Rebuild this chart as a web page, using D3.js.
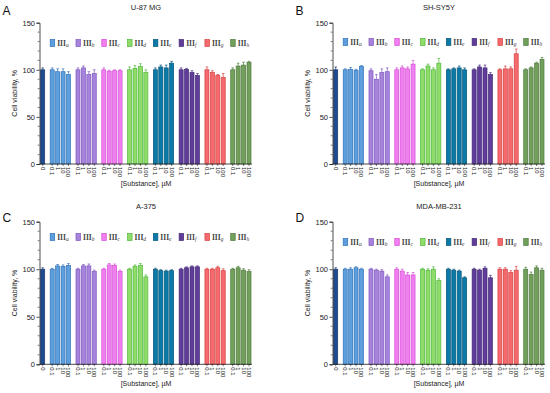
<!DOCTYPE html>
<html>
<head>
<meta charset="utf-8">
<script src="https://cdn.jsdelivr.net/npm/d3@7"></script>
<style>
  body { margin: 0; background: #fff; }
  svg { display: block; }
</style>
</head>
<body>
<svg id="chart" width="550" height="393"></svg>
<script>
// compounds and concentrations
const compounds = ["a", "b", "c", "d", "e", "f", "g", "h"];
const concLabels = ["0.1", "1", "10", "100"];

// cell lines
const titles = ["U-87 MG", "SH-SY5Y", "A-375", "MDA-MB-231"];
const letters = ["A", "B", "C", "D"];

// values: control first, then 4 concentrations for each compound a..h
const u87Means = [100,
  100, 98, 98, 95,
  100, 102, 95, 96,
  100, 98.5, 99, 99,
  100, 101.5, 103.5, 97,
  100, 103, 102, 107,
  100, 100.5, 97, 94,
  100, 97, 94, 92,
  100, 104, 105, 108];
const u87Errors = [2,
  2, 3, 3, 3,
  2, 2, 3, 4,
  2, 1, 1, 1,
  3, 3, 3, 3,
  2, 2, 3, 2,
  2, 1, 2, 2,
  3, 2, 1, 4,
  2, 3, 3, 1];

const shsyMeans = [100,
  100, 100.5, 99.5, 103.5,
  99, 90, 97, 98,
  100, 102, 101, 106,
  100, 104, 100, 107,
  100, 101, 102, 100,
  100, 103, 102, 95,
  100, 101, 101, 117,
  100, 102, 107, 111];
const shsyErrors = [3,
  1, 2, 1, 1,
  2, 5, 4, 4,
  2, 2, 2, 4,
  1, 2, 2, 5,
  1, 1, 2, 2,
  1, 2, 3, 2,
  1, 3, 2, 5,
  1, 1, 1, 2];

const a375Means = [100,
  100, 103.5, 103, 104,
  100, 103.5, 103.5, 97.5,
  100, 104.5, 104, 97.5,
  100, 103, 104, 92,
  100, 98.5, 98, 98.5,
  100, 101.5, 102.5, 102.5,
  100, 100, 101.5, 98.5,
  100, 101.5, 99, 97.5];
const a375Errors = [1.5,
  1, 1.5, 1.5, 2,
  1, 1.5, 2, 1.5,
  1, 1.5, 1.5, 1.5,
  1, 1.5, 2, 2,
  1, 1, 1, 1,
  1, 1, 1, 1,
  1, 1, 1.5, 2,
  1, 1.5, 1.5, 2];

const mdaMeans = [100,
  100, 100, 101.5, 100,
  100, 99, 98, 92,
  100, 98, 94, 94,
  100, 99, 100, 88,
  100, 99, 98, 91,
  100, 99, 101, 91,
  100, 100, 96.5, 99,
  100, 94.5, 101.5, 99];
const mdaErrors = [1.5,
  1, 1.5, 1, 1,
  1, 1, 1.5, 2,
  1.5, 2, 2.5, 2.5,
  1, 1.5, 2.5, 2,
  1, 1, 1, 1,
  1, 1, 1.5, 2.5,
  1.5, 1.5, 2, 4,
  2, 2.5, 2, 2];

const yTicks = [0, 50, 100, 150];

const fills = ["#1f4b8f", "#5d9fdc", "#a784dc", "#f07ff0", "#8fdc6b", "#0b7aa8", "#5f3d98", "#f46a6e", "#72a05c"];
const strokes = ["#163670", "#2f72b8", "#7f58c0", "#d64fd6", "#4fb83a", "#05567a", "#432878", "#d8403f", "#4e7a3c"];

const svg = d3.select("#chart");
const sans = "Liberation Sans, Arial, sans-serif";

const panels = [
  { means: u87Means, errs: u87Errors, dx: 0, top: 22.7, bottom: 164, legendY: 43, letterY: 15 },
  { means: shsyMeans, errs: shsyErrors, dx: 293, top: 22.7, bottom: 164, legendY: 42, letterY: 15 },
  { means: a375Means, errs: a375Errors, dx: 0, top: 221.7, bottom: 364.3, legendY: 237, letterY: 222 },
  { means: mdaMeans, errs: mdaErrors, dx: 293, top: 221.7, bottom: 364.3, legendY: 242, letterY: 222 }
];

// slot position of each bar (control, then groups with extra gap)
function slotOf(i) {
  if (i === 0) return 0;
  const g = Math.floor((i - 1) / 4), j = (i - 1) % 4;
  return (g + 1) * 0.75 + 1 + g * 4 + j;
}
function colorIdx(i) { return i === 0 ? 0 : Math.floor((i - 1) / 4) + 1; }

panels.forEach((p, pi) => {
  const g = svg.append("g").attr("transform", `translate(${p.dx},0)`);
  const x = d3.scaleLinear().domain([0, 38]).range([42.7, 249]);
  const y = d3.scaleLinear().domain([0, 150]).range([p.bottom, p.top]);
  const axisX = 39.5, axisEnd = 252;
  const barW = 4;

  // panel letter and title
  g.append("text").attr("x", 2.5).attr("y", p.letterY)
    .attr("font-family", sans).attr("font-size", 12)
    .attr("fill", "#111").text(letters[pi]);
  g.append("text").attr("x", 146).attr("y", p.top - 13)
    .attr("text-anchor", "middle")
    .attr("font-family", sans).attr("font-size", 7.5)
    .attr("fill", "#222").text(titles[pi]);

  // bars
  const idx = d3.range(p.means.length);
  g.selectAll("rect.bar").data(idx).enter().append("rect")
    .attr("class", "bar")
    .attr("x", i => x(slotOf(i)) - barW / 2)
    .attr("y", i => y(p.means[i]))
    .attr("width", barW)
    .attr("height", i => y(0) - y(p.means[i]))
    .attr("fill", i => fills[colorIdx(i)])
    .attr("stroke", i => strokes[colorIdx(i)])
    .attr("stroke-width", 0.7);

  // error bars
  const eb = g.selectAll("g.err").data(idx).enter().append("g").attr("class", "err")
    .attr("stroke", i => strokes[colorIdx(i)]).attr("stroke-width", 0.7);
  eb.append("line")
    .attr("x1", i => x(slotOf(i))).attr("x2", i => x(slotOf(i)))
    .attr("y1", i => y(p.means[i])).attr("y2", i => y(p.means[i] + p.errs[i]));
  eb.append("line")
    .attr("x1", i => x(slotOf(i)) - 1.3).attr("x2", i => x(slotOf(i)) + 1.3)
    .attr("y1", i => y(p.means[i] + p.errs[i])).attr("y2", i => y(p.means[i] + p.errs[i]));

  // y axis
  const yAxis = d3.axisLeft(y).tickValues(yTicks).tickSize(3).tickPadding(1.5);
  const ya = g.append("g").attr("transform", `translate(${axisX},0)`).call(yAxis);
  ya.select(".domain").attr("stroke", "#222").attr("stroke-width", 0.8);
  ya.selectAll(".tick line").attr("stroke", "#222").attr("stroke-width", 0.8);
  ya.selectAll(".tick text").attr("font-family", sans)
    .attr("font-size", 7.5).attr("fill", "#222");
  const minor = d3.range(0, 151, 10).filter(v => v % 50 !== 0);
  g.selectAll("line.minor").data(minor).enter().append("line")
    .attr("x1", axisX - 1.8).attr("x2", axisX)
    .attr("y1", d => y(d)).attr("y2", d => y(d))
    .attr("stroke", "#222").attr("stroke-width", 0.6);

  g.append("text")
    .attr("transform", `translate(17,${(p.top + p.bottom) / 2}) rotate(-90)`)
    .attr("text-anchor", "middle")
    .attr("font-family", sans).attr("font-size", 7)
    .attr("fill", "#222").text("Cell viability, %");

  // x axis
  g.append("line").attr("x1", axisX).attr("x2", axisEnd)
    .attr("y1", p.bottom).attr("y2", p.bottom)
    .attr("stroke", "#222").attr("stroke-width", 0.8);
  g.selectAll("line.xt").data(idx).enter().append("line")
    .attr("x1", i => x(slotOf(i))).attr("x2", i => x(slotOf(i)))
    .attr("y1", p.bottom).attr("y2", p.bottom + 2)
    .attr("stroke", "#222").attr("stroke-width", 0.6);
  g.selectAll("text.xl").data(idx).enter().append("text")
    .attr("transform", i => `translate(${x(slotOf(i)) - 2},${p.bottom + 3}) rotate(90)`)
    .attr("font-family", sans).attr("font-size", 6)
    .attr("fill", "#222")
    .text(i => i === 0 ? "0" : concLabels[(i - 1) % 4]);
  g.append("text").attr("x", 146).attr("y", p.bottom + 22)
    .attr("text-anchor", "middle")
    .attr("font-family", sans).attr("font-size", 7)
    .attr("fill", "#222").text("[Substance], µM");

  // legend
  const lg = g.selectAll("g.leg").data(compounds).enter().append("g").attr("class", "leg")
    .attr("transform", (c, k) => `translate(${x(slotOf(1 + k * 4)) - 2},${p.legendY})`);
  lg.append("rect").attr("x", 0).attr("y", -3.5).attr("width", 4.5).attr("height", 7)
    .attr("fill", (c, k) => fills[k + 1]).attr("stroke", (c, k) => strokes[k + 1])
    .attr("stroke-width", 0.7);
  const lt = lg.append("text").attr("x", 7).attr("y", 2.5)
    .attr("font-family", "Liberation Serif, Times New Roman, serif").attr("font-size", 7.5)
    .attr("font-weight", "bold").attr("fill", "#444");
  lt.append("tspan").text("III");
  lt.append("tspan").attr("font-style", "italic").attr("font-weight", "normal")
    .attr("font-size", 5.5).attr("dy", 1)
    .text(c => c);
});
</script>
</body>
</html>
